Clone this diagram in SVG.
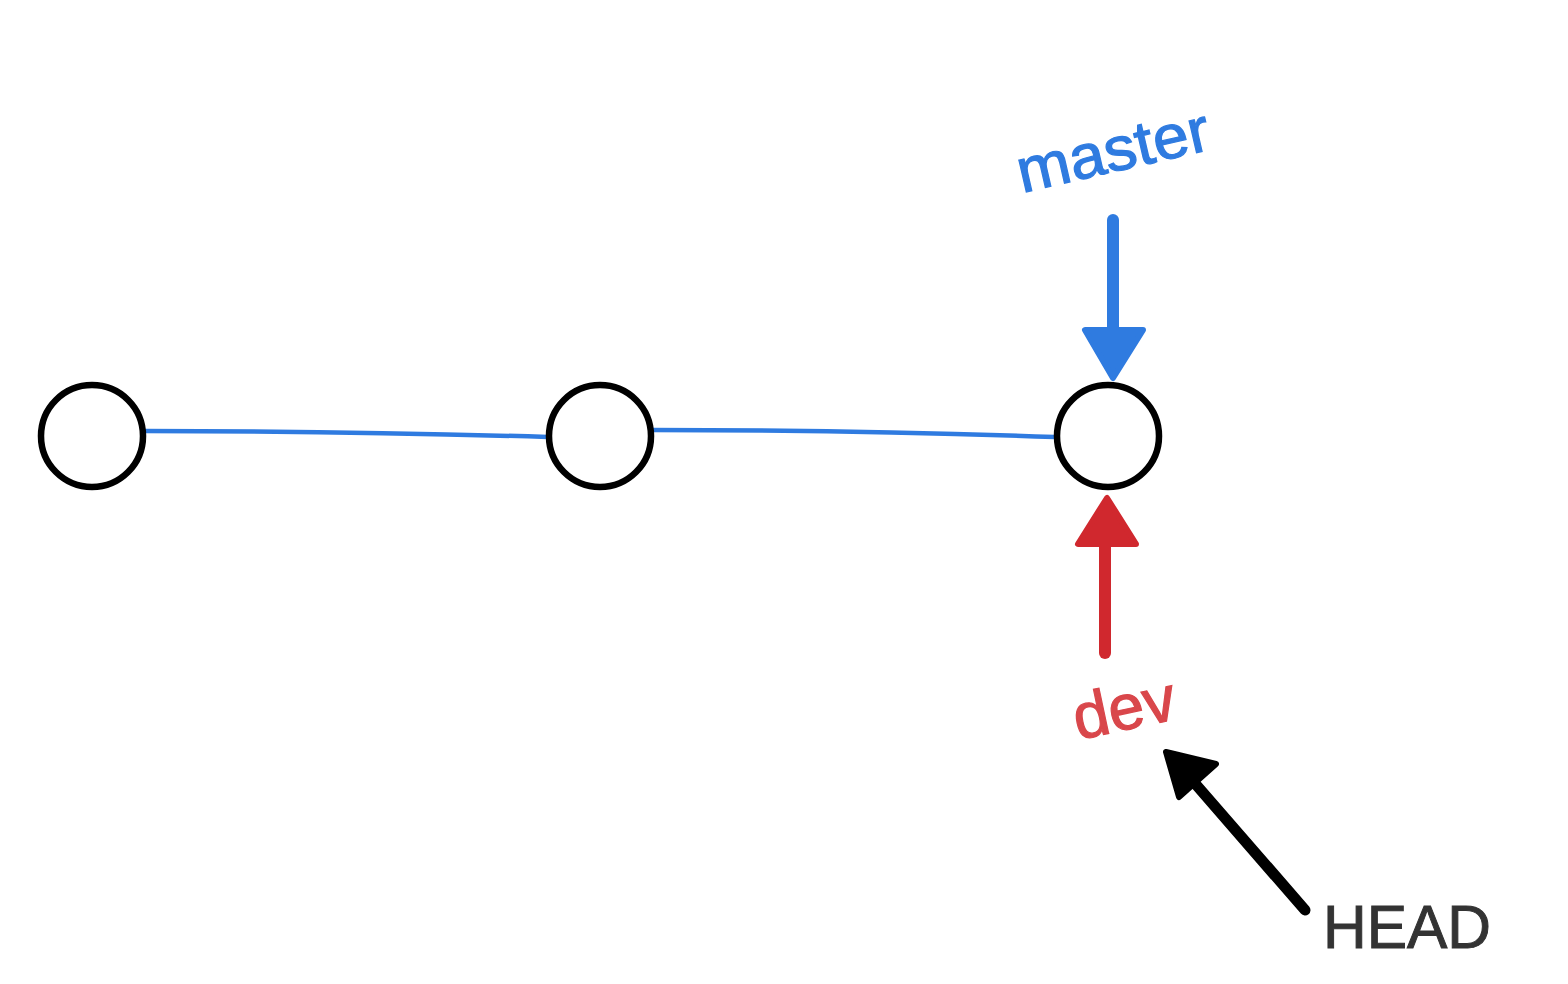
<svg xmlns="http://www.w3.org/2000/svg" width="1568" height="984" viewBox="0 0 1568 984">
<style>
.commit{fill:#fff;stroke:#000;stroke-width:6.5}
.edge{fill:none;stroke:#2f7be0;stroke-width:4.5;stroke-linecap:round}
.lbl{font-family:"Liberation Sans",Arial,sans-serif}
</style>
<rect width="1568" height="984" fill="#fff"/>
<g id="connectors">
<path class="edge" d="M145,431 Q350,431 548,437"/>
<path class="edge" d="M652,430 Q860,430 1055,437"/>
<g id="master-arrow">
<line x1="1113" y1="220" x2="1113" y2="335" stroke="#2f7be0" stroke-width="12" stroke-linecap="round"/>
<path d="M1085,330 L1143,330 L1113,378 Z" fill="#2f7be0" stroke="#2f7be0" stroke-width="6" stroke-linejoin="round"/>
</g>
<g id="dev-arrow">
<line x1="1105" y1="653" x2="1105" y2="545" stroke="#d0282e" stroke-width="12" stroke-linecap="round"/>
<path d="M1078,544 L1136,544 L1107,498 Z" fill="#d0282e" stroke="#d0282e" stroke-width="6" stroke-linejoin="round"/>
</g>
<g id="head-arrow">
<line x1="1305" y1="910" x2="1192" y2="780" stroke="#000" stroke-width="11" stroke-linecap="round"/>
<path d="M1166,752 L1216,764 L1179,797 Z" fill="#000" stroke="#000" stroke-width="6" stroke-linejoin="round"/>
</g>
</g>
<g id="c1"><circle class="commit" cx="92" cy="436" r="51"/></g>
<g id="c2"><circle class="commit" cx="600" cy="436" r="51"/></g>
<g id="c3"><circle class="commit" cx="1108" cy="436" r="51"/></g>
<g id="master"><text class="lbl" x="1022" y="193" font-size="62" fill="#2f7be0" stroke="#2f7be0" stroke-width="1.2" textLength="196" lengthAdjust="spacingAndGlyphs" transform="rotate(-13 1022 193)">master</text></g>
<g id="dev"><text class="lbl" x="1078" y="740" font-size="64" fill="#d9474b" stroke="#d9474b" stroke-width="1.2" transform="rotate(-12 1078 740)">dev</text></g>
<g id="HEAD"><text class="lbl" x="1323" y="948" font-size="62" fill="#333" stroke="#333" stroke-width="1" textLength="168" lengthAdjust="spacingAndGlyphs">HEAD</text></g>
</svg>
